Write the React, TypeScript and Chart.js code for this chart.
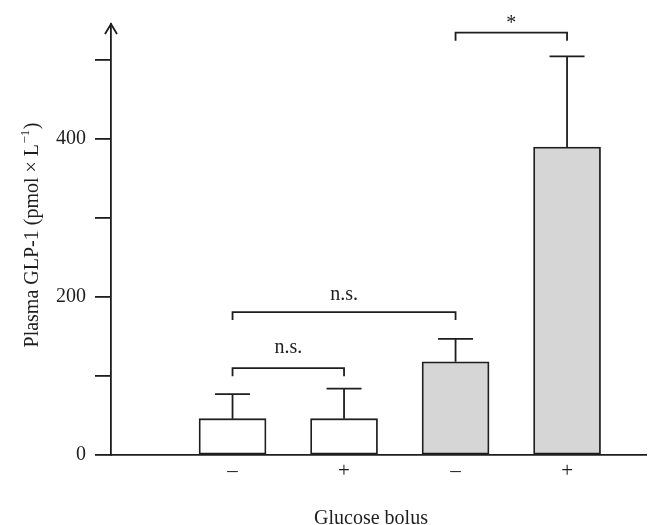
import React, { useEffect, useRef } from 'react';
import { Chart, registerables } from 'chart.js';

Chart.register(...registerables);

// ---- data ----
const xLabels = ['–', '+', '–', '+'];
const means = [46, 46, 118, 390];
const errorTops = [77, 84, 147, 505];
const barColors = ['#ffffff', '#ffffff', '#d6d6d6', '#d6d6d6'];
const yTicks = [0, 100, 200, 300, 400, 500];
const yTickLabels = ['0', '', '200', '', '400', ''];
const bracketFrom = [1, 1, 3];
const bracketTo = [2, 3, 4];
const bracketLevel = [110, 181, 535];
const bracketText = ['n.s.', 'n.s.', '*'];
const bracketGap = [15, 12, 4];
const yTitleMain = 'Plasma GLP-1 (pmol × L';
const yTitleSup = '−1';
const yTitleEnd = ')';
const xTitle = 'Glucose bolus';

const FONT = "'Liberation Serif', 'Times New Roman', serif";
const INK = '#1e1e1e';
const LW = 1.8;

const overlay = {
  id: 'overlay',
  afterDatasetsDraw(chart: any) {
    const ctx = chart.ctx;
    const xs = chart.scales.x;
    const ys = chart.scales.y;
    ctx.save();
    ctx.strokeStyle = INK;
    ctx.fillStyle = INK;
    ctx.lineWidth = LW;
    // error bars
    means.forEach((m, i) => {
      const x = xs.getPixelForValue(i + 1);
      const y0 = ys.getPixelForValue(m);
      const y1 = ys.getPixelForValue(errorTops[i]);
      ctx.beginPath();
      ctx.moveTo(x, y0);
      ctx.lineTo(x, y1);
      ctx.moveTo(x - 17.5, y1);
      ctx.lineTo(x + 17.5, y1);
      ctx.stroke();
    });
    // brackets
    ctx.font = `20px ${FONT}`;
    ctx.textAlign = 'center';
    ctx.textBaseline = 'alphabetic';
    bracketText.forEach((t, i) => {
      const x0 = xs.getPixelForValue(bracketFrom[i]);
      const x1 = xs.getPixelForValue(bracketTo[i]);
      const y = ys.getPixelForValue(bracketLevel[i]);
      ctx.beginPath();
      ctx.moveTo(x0, y + 8);
      ctx.lineTo(x0, y);
      ctx.lineTo(x1, y);
      ctx.lineTo(x1, y + 8);
      ctx.stroke();
      ctx.fillText(t, (x0 + x1) / 2, y - bracketGap[i]);
    });
    // arrow on y axis
    const ax = xs.left;
    const at = ys.top;
    ctx.beginPath();
    ctx.moveTo(ax - 6, at + 10);
    ctx.lineTo(ax, at);
    ctx.lineTo(ax + 6, at + 10);
    ctx.stroke();
    // y title
    ctx.save();
    ctx.translate(38, 235);
    ctx.rotate(-Math.PI / 2);
    ctx.textAlign = 'left';
    ctx.font = `20px ${FONT}`;
    const w1 = ctx.measureText(yTitleMain).width;
    const w3 = ctx.measureText(yTitleEnd).width;
    ctx.font = `13px ${FONT}`;
    const w2 = ctx.measureText(yTitleSup).width;
    const total = w1 + w2 + w3 + 1;
    let px = -total / 2;
    ctx.font = `20px ${FONT}`;
    ctx.fillText(yTitleMain, px, 0);
    px += w1;
    ctx.font = `13px ${FONT}`;
    ctx.fillText(yTitleSup, px + 0.5, -9);
    px += w2 + 1;
    ctx.font = `20px ${FONT}`;
    ctx.fillText(yTitleEnd, px, 0);
    ctx.restore();
    // x title
    ctx.textAlign = 'center';
    ctx.font = `20px ${FONT}`;
    ctx.fillText(xTitle, 371, 524);
    ctx.restore();
  },
};

export default function App() {
  const ref = useRef<HTMLCanvasElement | null>(null);
  useEffect(() => {
    if (!ref.current) return;
    const chart = new Chart(ref.current, {
      type: 'bar',
      data: {
        datasets: [
          {
            data: means.map((v, i) => ({ x: i + 1, y: v })),
            backgroundColor: barColors,
            borderColor: INK,
            borderWidth: LW,
            borderSkipped: false,
            barThickness: 67,
          } as any,
        ],
      },
      options: {
        responsive: false,
        animation: false,
        events: [],
        layout: { padding: { top: 24, right: 14, left: 0, bottom: 0 } },
        plugins: { legend: { display: false }, tooltip: { enabled: false } },
        scales: {
          x: {
            type: 'linear',
            offset: false,
            min: -0.09,
            max: 4.708,
            afterFit: (s: any) => { s.height = 70; },
            afterBuildTicks: (s: any) => { s.ticks = xLabels.map((_, i) => ({ value: i + 1 })); },
            grid: { display: false, offset: false },
            border: { display: true, color: INK, width: LW },
            ticks: {
              autoSkip: false,
              maxRotation: 0,
              padding: -4,
              color: INK,
              font: { family: FONT, size: 21 },
              callback: (v: any) => xLabels[Math.round(Number(v)) - 1] ?? '',
            },
          },
          y: {
            type: 'linear',
            min: 0,
            max: 546,
            afterFit: (s: any) => { s.width = 111; },
            afterBuildTicks: (s: any) => { s.ticks = yTicks.map((v) => ({ value: v })); },
            grid: { drawOnChartArea: false, drawTicks: true, tickLength: 16, color: INK, lineWidth: LW },
            border: { display: true, color: INK, width: LW },
            ticks: {
              padding: 9,
              color: INK,
              font: { family: FONT, size: 20 },
              callback: (v: any) => yTickLabels[yTicks.indexOf(Number(v))] ?? '',
            },
          },
        },
      } as any,
      plugins: [overlay],
    });
    return () => chart.destroy();
  }, []);
  return (
    <div style={{ position: 'fixed', left: 0, top: 0, width: 660, height: 525, background: '#fff' }}>
      <canvas ref={ref} width={660} height={525} style={{ display: 'block' }} />
    </div>
  );
}
